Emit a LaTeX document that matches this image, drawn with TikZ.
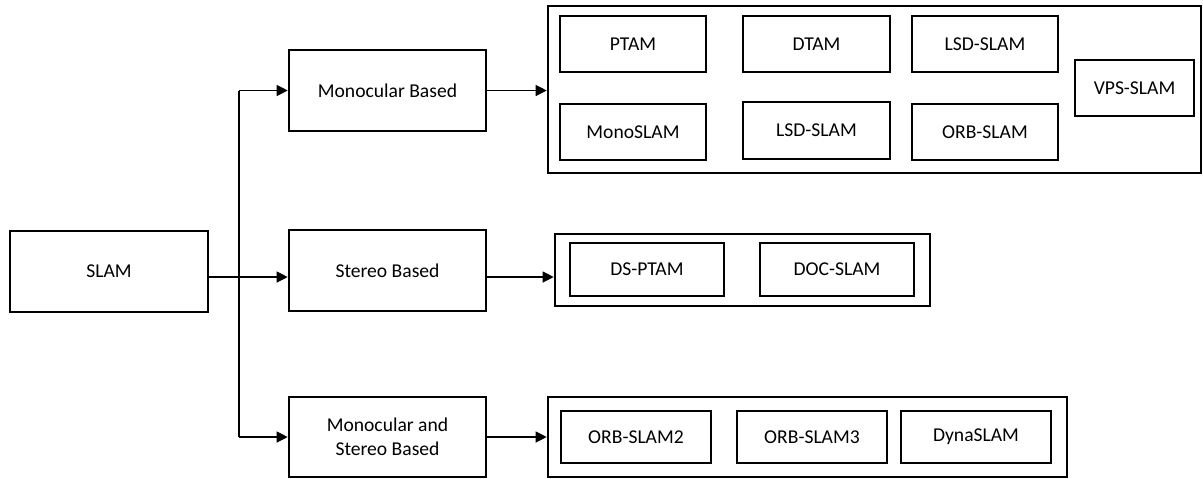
\documentclass[tikz,border=0pt]{standalone}
\usepackage{fontspec}
\setmainfont{Carlito}
\usetikzlibrary{arrows.meta,calc}
\begin{document}
\begin{tikzpicture}[x=0.5pt,y=-0.5pt,
  box/.style={draw,line width=1.3pt,inner sep=0pt,font=\fontsize{9.8pt}{12pt}\selectfont,align=center},
  conn/.style={line width=0.6pt,-{Triangle[length=5.5pt,width=5.5pt]}}]
\useasboundingbox (0,0) rectangle (1203,478);
% main boxes
\node[box,minimum width=99pt,minimum height=40.5pt] (slam) at (109,271.5) {SLAM};
\node[box,minimum width=98.5pt,minimum height=40.5pt] (mono) at (387.5,90.5) {Monocular Based};
\node[box,minimum width=98.5pt,minimum height=40.5pt] (stereo) at (387.5,270.5) {Stereo Based};
\node[box,minimum width=98.5pt,minimum height=40pt] (ms) at (387.5,437) {Monocular and\\Stereo Based};
% containers
\node[box,minimum width=326.5pt,minimum height=83.5pt] (mcont) at (874.5,89.5) {};
\node[box,minimum width=187.5pt,minimum height=36pt] (scont) at (742.5,270) {};
\node[box,minimum width=259.5pt,minimum height=40pt] (mscont) at (807.5,437) {};
% monocular methods
\node[box,minimum width=73pt,minimum height=28pt] (ptam) at (633,44) {PTAM};
\node[box,minimum width=73.5pt,minimum height=28pt] (dtam) at (816.5,44) {DTAM};
\node[box,minimum width=73pt,minimum height=28pt] (lsda) at (985,44) {LSD-SLAM};
\node[box,minimum width=73pt,minimum height=28pt] (monoslam) at (633,132) {MonoSLAM};
\node[box,minimum width=73.5pt,minimum height=28.5pt] (lsdb) at (816.5,130.5) {LSD-SLAM};
\node[box,minimum width=73pt,minimum height=28pt] (orb) at (985,132) {ORB-SLAM};
\node[box,minimum width=59.5pt,minimum height=28pt] (vps) at (1134.5,88) {VPS-SLAM};
% stereo methods
\node[box,minimum width=77pt,minimum height=26.5pt] (dsptam) at (647,269.5) {DS-PTAM};
\node[box,minimum width=77pt,minimum height=26.5pt] (doc) at (837,269.5) {DOC-SLAM};
% mono+stereo methods
\node[box,minimum width=75pt,minimum height=26pt] (orb2) at (636,437) {ORB-SLAM2};
\node[box,minimum width=75pt,minimum height=26pt] (orb3) at (812,437) {ORB-SLAM3};
\node[box,minimum width=75pt,minimum height=26pt] (dyna) at (976,437) {DynaSLAM};
% connectors
\coordinate (tr) at (239,277);
\draw[line width=0.6pt] (tr |- mono.west) -- (tr |- ms.west);
\draw[conn] (tr |- mono.west) -- (mono.west);
\draw[conn] (tr |- ms.west) -- (ms.west);
\draw[conn] ($(slam.east)+(0,5.5)$) -- ($(stereo.west)+(0,6.5)$);
\draw[conn] (mono.east) -- (mcont.west |- mono.east);
\draw[conn] ($(stereo.east)+(0,6.5)$) -- ($(scont.west)+(0,7)$);
\draw[conn] (ms.east) -- (mscont.west |- ms.east);
\end{tikzpicture}
\end{document}
